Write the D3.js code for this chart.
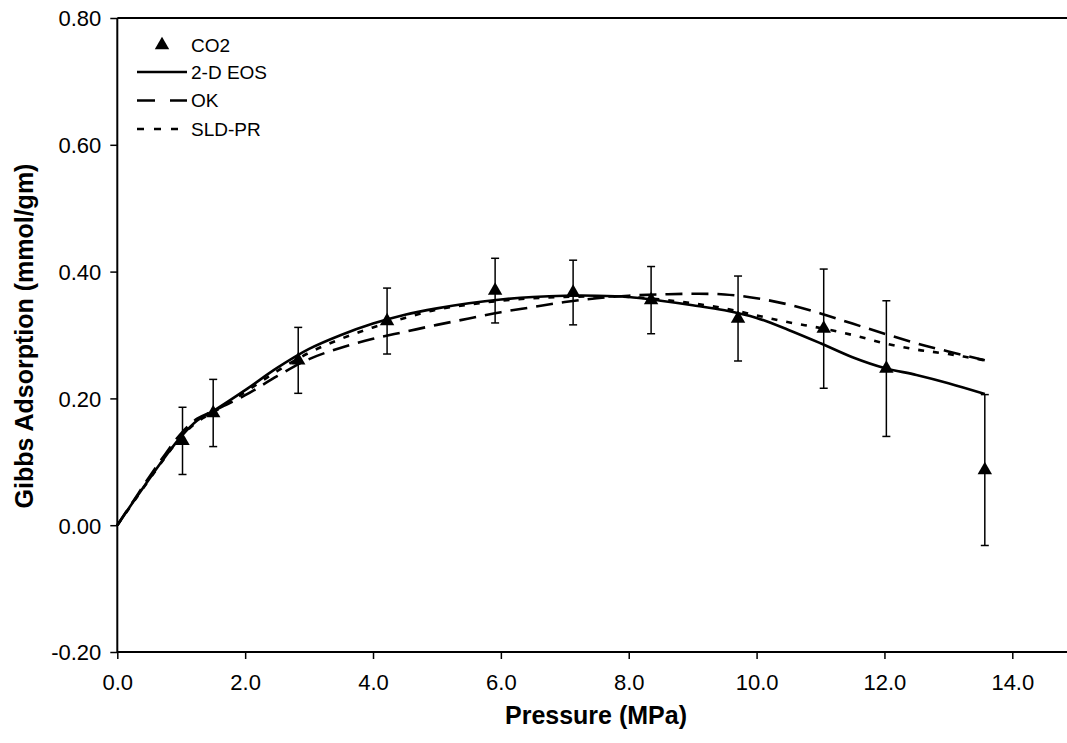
<!DOCTYPE html>
<html>
<head>
<meta charset="utf-8">
<script src="https://cdn.jsdelivr.net/npm/d3@7"></script>
<style>
  body { margin: 0; background: #fff; }
  text { font-family: 'Liberation Sans', Arial, sans-serif; fill: #000; }
</style>
</head>
<body>
<div id="chart"></div>
<script>
// measured CO2 points with error bars
let pressure = [1.02, 1.50, 2.83, 4.22, 5.91, 7.13, 8.35, 9.71, 11.05, 12.03, 13.57]
let adsorption = [0.133, 0.177, 0.260, 0.322, 0.370, 0.367, 0.355, 0.326, 0.310, 0.247, 0.087]
let errorBar = [0.053, 0.053, 0.052, 0.052, 0.051, 0.051, 0.053, 0.067, 0.094, 0.107, 0.119]

// model curves
let modelP = [0, 0.25, 0.5, 0.75, 1.0, 1.25, 1.5, 2.0, 2.5, 3.0, 3.5, 4.0, 4.5, 5.0, 5.5, 6.0,
  6.5, 7.0, 7.5, 8.0, 8.5, 9.0, 9.5, 10.0, 10.5, 11.0, 11.5, 12.0, 12.5, 13.0, 13.57]
let eos2d = [0, 0.037, 0.073, 0.108, 0.140, 0.165, 0.180, 0.213, 0.248, 0.278, 0.300, 0.318,
  0.332, 0.342, 0.350, 0.356, 0.360, 0.362, 0.362, 0.360, 0.354, 0.347, 0.339, 0.327, 0.308,
  0.287, 0.265, 0.248, 0.237, 0.224, 0.207]
let ok = [0, 0.038, 0.076, 0.112, 0.145, 0.168, 0.180, 0.205, 0.235, 0.262, 0.280, 0.294,
  0.305, 0.316, 0.326, 0.336, 0.344, 0.352, 0.358, 0.362, 0.364, 0.365, 0.364, 0.358, 0.348,
  0.334, 0.318, 0.302, 0.287, 0.274, 0.260]
let sldpr = [0, 0.036, 0.072, 0.107, 0.140, 0.163, 0.178, 0.210, 0.243, 0.272, 0.294, 0.312,
  0.327, 0.340, 0.348, 0.354, 0.358, 0.360, 0.361, 0.360, 0.356, 0.350, 0.342, 0.331, 0.320,
  0.311, 0.300, 0.287, 0.277, 0.270, 0.260]

let xTicks = [0, 2, 4, 6, 8, 10, 12, 14]
let yTicks = [-0.2, 0, 0.2, 0.4, 0.6, 0.8]

let width = 1067
let height = 743

let svg = d3
  .select('#chart')
  .append('svg')
  .attr('width', width)
  .attr('height', height)

let xScale = d3.scaleLinear().domain([0, 14]).range([117.3, 1012.3])
let yScale = d3.scaleLinear().domain([-0.2, 0.8]).range([652, 18])

// axes
let xAxis = d3.axisBottom(xScale)
  .tickValues(xTicks)
  .tickSize(7)
  .tickPadding(15)
  .tickFormat(d3.format('.1f'))

let yAxis = d3.axisLeft(yScale)
  .tickValues(yTicks)
  .tickSize(7)
  .tickPadding(9)
  .tickFormat(d => d3.format('.2f')(d).replace('\u2212', '-'))

let gx = svg.append('g')
  .attr('transform', `translate(0,${yScale(-0.2)})`)
  .call(xAxis)
gx.select('.domain').attr('d', `M${xScale(0)},0H${width}`)

let gy = svg.append('g')
  .attr('transform', `translate(${xScale(0)},0)`)
  .call(yAxis)
gy.select('.domain').attr('d', `M0,${yScale(0.8)}V${yScale(-0.2)}`)

svg.selectAll('.domain').attr('stroke', '#000').attr('stroke-width', 2)
svg.selectAll('.tick line').attr('stroke', '#000').attr('stroke-width', 1.5)
svg.selectAll('.tick text')
  .attr('font-size', 22)
  .attr('font-family', "'Liberation Sans', Arial, sans-serif")
  .attr('fill', '#000')
gy.selectAll('.tick text').attr('dy', '0.36em')

// top border
svg.append('line')
  .attr('x1', xScale(0)).attr('x2', width)
  .attr('y1', yScale(0.8)).attr('y2', yScale(0.8))
  .attr('stroke', '#000')
  .attr('stroke-width', 2)

// axis titles
svg.append('text')
  .text('Pressure (MPa)')
  .attr('x', 596)
  .attr('y', 724)
  .attr('text-anchor', 'middle')
  .attr('font-size', 25)
  .attr('font-weight', 'bold')

svg.append('text')
  .text('Gibbs Adsorption (mmol/gm)')
  .attr('transform', 'translate(33,336) rotate(-90)')
  .attr('text-anchor', 'middle')
  .attr('font-size', 25)
  .attr('font-weight', 'bold')

// model lines
let models = [
  { name: '2-D EOS', values: eos2d, dash: null, legendDash: null },
  { name: 'OK', values: ok, dash: '17,9', legendDash: '18,15' },
  { name: 'SLD-PR', values: sldpr, dash: '6,9', legendDash: '7,10' }
]

let line = d3.line()
  .x(d => xScale(d[0]))
  .y(d => yScale(d[1]))
  .curve(d3.curveCatmullRom)

svg.selectAll('.model')
  .data(models)
  .enter()
  .append('path')
  .attr('class', 'model')
  .attr('d', d => line(modelP.map((p, i) => [p, d.values[i]])))
  .attr('fill', 'none')
  .attr('stroke', '#000')
  .attr('stroke-width', 2.6)
  .attr('stroke-dasharray', d => d.dash)

// error bars
let points = pressure.map((p, i) => ({ p: p, q: adsorption[i], e: errorBar[i] }))

let bars = svg.selectAll('.err')
  .data(points)
  .enter()
  .append('g')
  .attr('class', 'err')
  .attr('stroke', '#000')
  .attr('stroke-width', 1.5)

bars.append('line')
  .attr('x1', d => xScale(d.p)).attr('x2', d => xScale(d.p))
  .attr('y1', d => yScale(d.q + d.e)).attr('y2', d => yScale(d.q - d.e))
bars.append('line')
  .attr('x1', d => xScale(d.p) - 4).attr('x2', d => xScale(d.p) + 4)
  .attr('y1', d => yScale(d.q + d.e)).attr('y2', d => yScale(d.q + d.e))
bars.append('line')
  .attr('x1', d => xScale(d.p) - 4).attr('x2', d => xScale(d.p) + 4)
  .attr('y1', d => yScale(d.q - d.e)).attr('y2', d => yScale(d.q - d.e))

let triangle = d3.symbol().type(d3.symbolTriangle).size(90)

svg.selectAll('.co2')
  .data(points)
  .enter()
  .append('path')
  .attr('class', 'co2')
  .attr('d', triangle)
  .attr('transform', d => `translate(${xScale(d.p)},${yScale(d.q)})`)
  .attr('fill', '#000')

// legend
let legend = svg.append('g')
  .attr('transform', 'translate(137,45)')

legend.append('path')
  .attr('d', triangle)
  .attr('transform', 'translate(25,0)')
  .attr('fill', '#000')
legend.append('text')
  .text('CO2')
  .attr('x', 54)
  .attr('dy', '0.36em')
  .attr('font-size', 19)

legend
  .selectAll('.legend-entry')
  .data(models)
  .enter()
  .append('g')
  .attr('class', 'legend-entry')
  .attr('transform', (d, i) => `translate(0,${27 + i * 28.5})`)
  .each(function (d) {
    let g = d3.select(this)
    g.append('line')
      .attr('x1', 0).attr('x2', 50)
      .attr('stroke', '#000')
      .attr('stroke-width', 2.6)
      .attr('stroke-dasharray', d.legendDash)
    g.append('text')
      .text(d.name)
      .attr('x', 54)
      .attr('dy', '0.36em')
      .attr('font-size', 19)
  })
</script>
</body>
</html>
